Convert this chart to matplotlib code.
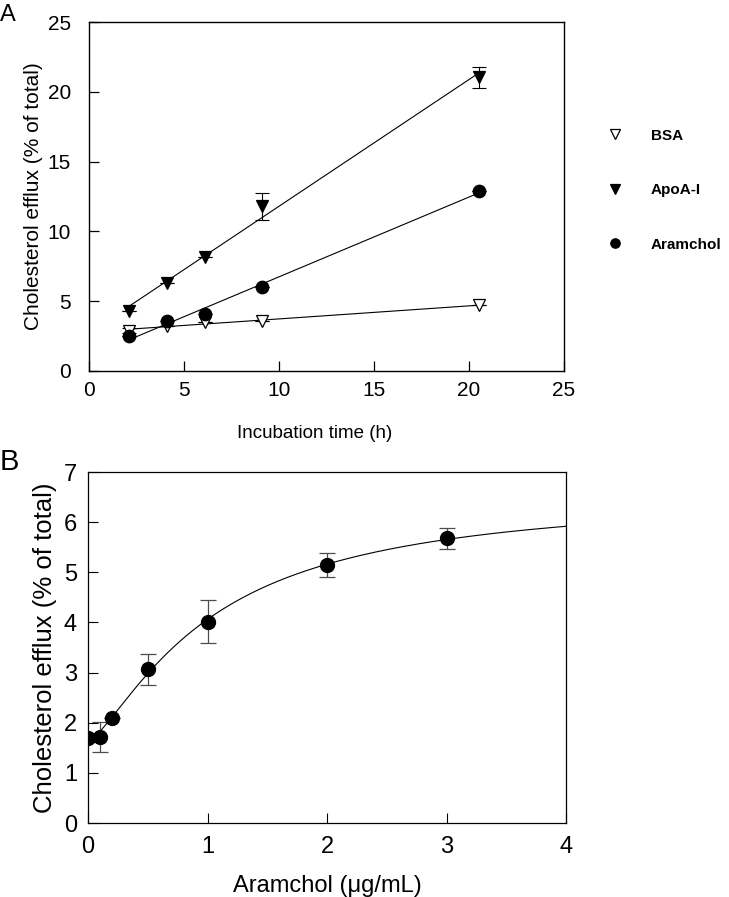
import numpy as np
import matplotlib
matplotlib.use("Agg")
import matplotlib.pyplot as plt

plt.rcParams['font.family'] = ['Liberation Sans', 'DejaVu Sans']

# ---- Panel A: efflux vs incubation time ----
tiempo = [2.1, 4.1, 6.1, 9.1, 20.5]
bsa = [2.9, 3.2, 3.5, 3.6, 4.7]
bsa_err = [0.2, 0.0, 0.0, 0.0, 0.0]
apoa = [4.3, 6.3, 8.2, 11.8, 21.05]
apoa_err = [0.0, 0.0, 0.0, 0.95, 0.75]
aramchol = [2.5, 3.6, 4.1, 6.0, 12.9]
aramchol_err = [0.0, 0.0, 0.0, 0.0, 0.0]

# ---- Panel B: efflux vs Aramchol dose ----
dosis = [0.0, 0.1, 0.2, 0.5, 1.0, 2.0, 3.0]
efflux = [1.70, 1.72, 2.10, 3.07, 4.01, 5.14, 5.68]
efflux_err = [0.0, 0.30, 0.0, 0.31, 0.43, 0.24, 0.21]

fig = plt.figure(figsize=(7.29, 8.97), dpi=100)

# ================= A =================
axA = fig.add_axes([89/729, 1 - 371/897, 475/729, 349/897])

series = [
    (bsa, bsa_err, 'v', 'white', 'BSA'),
    (apoa, apoa_err, 'v', 'black', 'ApoA-I'),
    (aramchol, aramchol_err, 'o', 'black', 'Aramchol'),
]
handles = []
for ys, err, mk, fc, lab in series:
    # recta de regresion sobre el rango medido
    m, b = np.polyfit(tiempo, ys, 1)
    xx = np.array([tiempo[0], tiempo[-1]])
    axA.plot(xx, m * xx + b, color='black', lw=0.8, zorder=2)
    axA.errorbar(tiempo, ys, yerr=err, fmt='none', ecolor='black',
                 elinewidth=0.8, capsize=5, capthick=0.8, zorder=3)
    h, = axA.plot(tiempo, ys, linestyle='none', marker=mk, markersize=9,
                  markerfacecolor=fc, markeredgecolor='black',
                  markeredgewidth=0.9, zorder=4, label=lab)
    handles.append(h)

axA.set_xlim(0, 25)
axA.set_ylim(0, 25)
axA.set_xticks([0, 5, 10, 15, 20, 25])
axA.set_yticks([0, 5, 10, 15, 20, 25])
axA.tick_params(direction='in', length=7, width=0.9, labelsize=15)
axA.tick_params(axis='y', pad=13)
axA.tick_params(axis='x', pad=7)
for s in axA.spines.values():
    s.set_linewidth(1.0)
axA.set_xlabel('Incubation time (h)', fontsize=13.5)
axA.xaxis.set_label_coords(0.476, -0.155)
axA.set_ylabel('Cholesterol efflux (% of total)', fontsize=15)
axA.yaxis.set_label_coords(-0.097, 0.5)

leg = axA.legend(handles=handles, loc='upper left',
                 bbox_to_anchor=(590/729, 1 - 115/897),
                 bbox_transform=fig.transFigure, frameon=False,
                 markerscale=0.75, handlelength=1.5, handletextpad=1.6,
                 labelspacing=2.65, prop={'weight': 'bold', 'size': 11})

fig.text(0.0, 1 - 15/897, 'A', fontsize=17, va='center', ha='left')

# ================= B =================
axB = fig.add_axes([88/729, 1 - 823/897, 478/729, 351/897])

# curva de saturacion (forma de Hill) ajustada por minimos cuadrados
xd = np.array(dosis)
yd = np.array(efflux)
best = None
for ec in np.linspace(0.3, 3.0, 271):
    for n in np.linspace(0.8, 3.0, 111):
        f = xd ** n / (ec ** n + xd ** n)
        A = np.vstack([np.ones_like(f), f]).T
        coef, res, _, _ = np.linalg.lstsq(A, yd, rcond=None)
        sse = np.sum((A @ coef - yd) ** 2)
        if best is None or sse < best[0]:
            best = (sse, ec, n, coef)
_, ec, n, coef = best
xc = np.linspace(0, 4, 400)
yc = coef[0] + coef[1] * xc ** n / (ec ** n + xc ** n)
axB.plot(xc, yc, color='black', lw=0.8, zorder=2)

axB.errorbar(dosis, efflux, yerr=efflux_err, fmt='none', ecolor='0.3',
             elinewidth=0.9, capsize=6, capthick=0.9, zorder=3)
axB.plot(dosis, efflux, linestyle='none', marker='o', markersize=10,
         color='black', zorder=4)

axB.set_xlim(0, 4)
axB.set_ylim(0, 7)
axB.set_xticks([0, 1, 2, 3, 4])
axB.set_yticks(range(8))
axB.tick_params(direction='in', length=7, width=0.8, labelsize=17)
axB.tick_params(axis='y', pad=8)
axB.tick_params(axis='x', pad=9)
for s in axB.spines.values():
    s.set_linewidth(0.9)
axB.set_xlabel('Aramchol (\u03bcg/mL)', fontsize=17)
axB.xaxis.set_label_coords(0.5, -0.148)
axB.set_ylabel('Cholesterol efflux (% of total)', fontsize=18.5)
axB.yaxis.set_label_coords(-0.065, 0.5)

fig.text(0.0, 1 - 462/897, 'B', fontsize=21, va='center', ha='left')

fig.savefig('out.png', dpi=100)
